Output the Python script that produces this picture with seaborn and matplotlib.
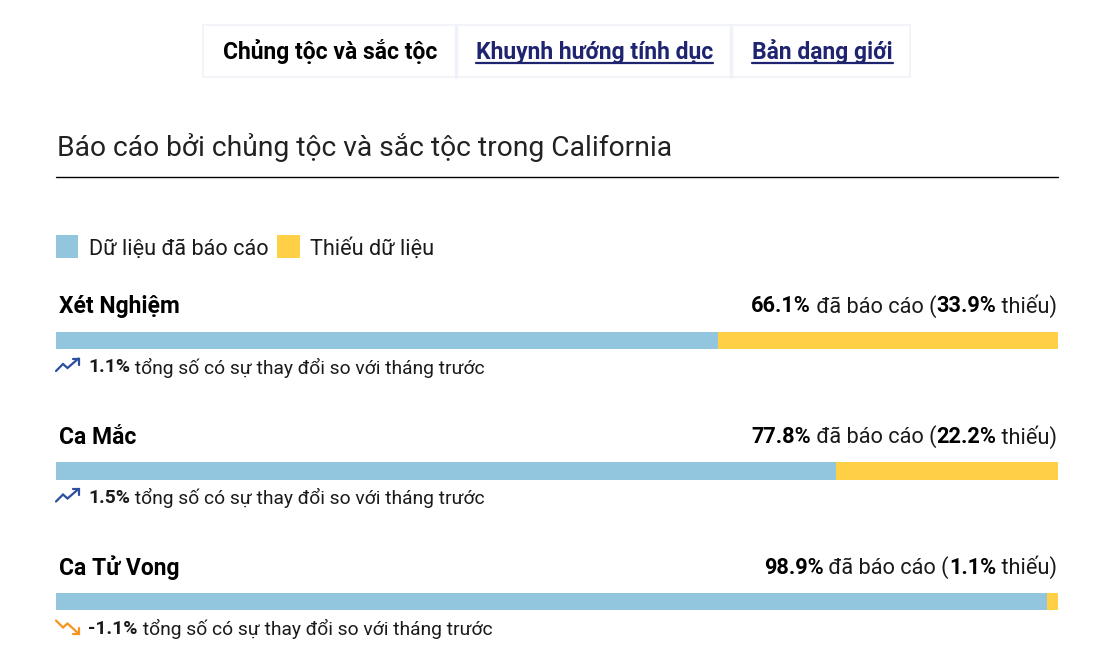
import matplotlib
matplotlib.use("Agg")
import matplotlib.pyplot as plt
from matplotlib.lines import Line2D
from matplotlib.patches import Rectangle
import seaborn as sns
import pandas as pd

# ---------------- data ----------------
tabs = ["Chủng tộc và sắc tộc", "Khuynh hướng tính dục", "Bản dạng giới"]
title = "Báo cáo bởi chủng tộc và sắc tộc trong California"
legend_labels = ["Dữ liệu đã báo cáo", "Thiếu dữ liệu"]
categories = ["Xét Nghiệm", "Ca Mắc", "Ca Tử Vong"]
reported = [66.1, 77.8, 98.9]
missing = [33.9, 22.2, 1.1]
change = [1.1, 1.5, -1.1]
change_text = "tổng số có sự thay đổi so với tháng trước"

BLUE = "#92c5de"
YELLOW = "#ffd045"
NAVY = "#1f2470"
UP = "#2b4f9e"
DOWN = "#f7941d"
TXT = "#1a1a1a"

W, H = 1116, 670
sns.set_theme(style="white")
plt.rcParams["font.family"] = ["Roboto", "DejaVu Sans"]

fig = plt.figure(figsize=(W / 100, H / 100), dpi=100)
fig.patch.set_facecolor("white")


def fx(x):
    return x / W


def fy(y):
    return 1 - y / H


# ---------------- bars ----------------
row0, row2 = 340.5, 601.5
step = (row2 - row0) / 2
ax_top = row0 - step / 2
ax_bot = row2 + step / 2
ax = fig.add_axes([fx(56), fy(ax_bot), fx(1058) - fx(56), (ax_bot - ax_top) / H])
df = pd.DataFrame({"cat": categories, "reported": reported,
                   "total": [r + m for r, m in zip(reported, missing)]})
bw = 17.5 / step
sns.barplot(data=df, x="total", y="cat", orient="h", color=YELLOW, width=bw,
            ax=ax, saturation=1, linewidth=0)
sns.barplot(data=df, x="reported", y="cat", orient="h", color=BLUE, width=bw,
            ax=ax, saturation=1, linewidth=0)
ax.set_xlim(0, 100)
ax.set_ylim(2.5, -0.5)
ax.axis("off")

fig.canvas.draw()
renderer = fig.canvas.get_renderer()


def seg_text(x, y, segments, size, align="left"):
    """Draw segments [(text, weight, color)] in sequence at pixel (x, y-center)."""
    artists = []
    widths = []
    for s, w, c in segments:
        t = fig.text(0, fy(y), s, fontsize=size, fontweight=w, color=c,
                     va="center", ha="left")
        artists.append(t)
        widths.append(t.get_window_extent(renderer).width)
    total = sum(widths)
    cur = x if align == "left" else x - total
    for t, wd in zip(artists, widths):
        t.set_x(fx(cur))
        cur += wd
    return artists


# ---------------- tabs ----------------
box_l, box_r, box_t, box_b = 203, 910, 25, 77
border = "#f0f2f9"
fig.add_artist(Rectangle((fx(box_l), fy(box_b)), fx(box_r) - fx(box_l),
                         (box_b - box_t) / H, fill=False, edgecolor=border,
                         linewidth=1.2, transform=fig.transFigure))
for xd in [456, 731]:
    fig.add_artist(Line2D([fx(xd), fx(xd)], [fy(box_t), fy(box_b)],
                          color=border, linewidth=2.5, transform=fig.transFigure))
tab_x = [223, 476, 752]
for i, (tx, lab) in enumerate(zip(tab_x, tabs)):
    col = "black" if i == 0 else NAVY
    t = fig.text(fx(tx), fy(52), lab, fontsize=16.5, fontweight="bold",
                 color=col, ha="left", va="center")
    if i > 0:
        wd = t.get_window_extent(renderer).width
        fig.add_artist(Line2D([fx(tx), fx(tx + wd)], [fy(63), fy(63)],
                              color=NAVY, linewidth=1.6,
                              transform=fig.transFigure))

# ---------------- title ----------------
fig.text(fx(57), fy(148), title, fontsize=20.3, fontweight="normal",
         color="#222222", ha="left", va="center")
fig.add_artist(Line2D([fx(56), fx(1058)], [fy(177), fy(177)], color="black",
                      linewidth=1.0, transform=fig.transFigure))

# ---------------- legend ----------------
for (x0, x1), col in zip([(56, 78), (277, 300)], [BLUE, YELLOW]):
    fig.add_artist(Rectangle((fx(x0), fy(258)), fx(x1) - fx(x0), 23 / H,
                             facecolor=col, edgecolor="none",
                             transform=fig.transFigure))
for x0, lab in zip([89, 310], legend_labels):
    fig.text(fx(x0), fy(249), lab, fontsize=15.6, color=TXT,
             ha="left", va="center")

# ---------------- per-row text ----------------
for i, cat in enumerate(categories):
    yc = row0 + i * step
    label_y = yc - 34
    fig.text(fx(59), fy(label_y), cat, fontsize=16.5, fontweight="bold",
             color="black", ha="left", va="center")
    seg_text(1057, label_y,
             [(f"{reported[i]:.1f}%", "bold", "black"),
              (" đã báo cáo (", "normal", TXT),
              (f"{missing[i]:.1f}%", "bold", "black"),
              (" thiếu)", "normal", TXT)], 15.7, align="right")
    cy = yc + 27
    seg_text(88, cy,
             [(f"{change[i]:.1f}%", "bold", TXT),
              (" " + change_text, "normal", TXT)], 13.85)
    # trend icon
    cy0 = yc + 26
    if change[i] >= 0:
        pts = [(56, cy0 + 4.5), (63, cy0 - 2.5), (67.5, cy0 + 1.5), (78.5, cy0 - 8)]
        head = [(72.5, cy0 - 8), (79, cy0 - 8), (79, cy0 - 2)]
        col = UP
    else:
        pts = [(56, cy0 - 7), (63, cy0), (67.5, cy0 - 4), (78.5, cy0 + 6)]
        head = [(79, cy0), (79, cy0 + 6.5), (72.5, cy0 + 6.5)]
        col = DOWN
    for p in [pts, head]:
        fig.add_artist(Line2D([fx(a) for a, b in p], [fy(b) for a, b in p],
                              color=col, linewidth=1.6,
                              solid_joinstyle="miter",
                              transform=fig.transFigure))

fig.savefig("out.png", dpi=100, facecolor="white")
